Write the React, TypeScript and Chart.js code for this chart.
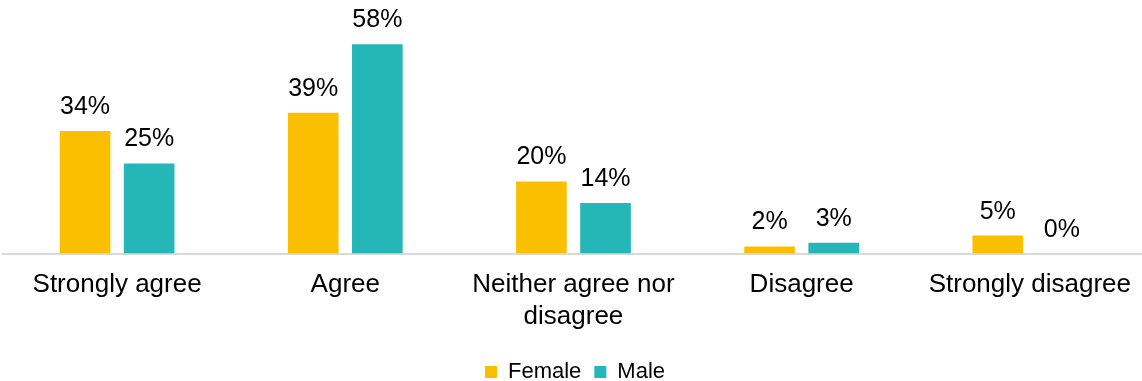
import React, { useEffect, useRef } from "react";
import { Chart, registerables } from "chart.js";

Chart.register(...registerables);

const categories: (string | string[])[] = [
  "Strongly agree",
  "Agree",
  ["Neither agree nor", "disagree"],
  "Disagree",
  "Strongly disagree",
];
const femaleValues = [34, 39, 20, 2, 5];
const maleValues = [25, 58, 14, 3, 0];
const seriesNames = ["Female", "Male"];
const seriesColors = ["#FAC000", "#25B7B7"];

const FONT = "'Liberation Sans', Arial, sans-serif";

const valueLabels = {
  id: "valueLabels",
  afterDatasetsDraw(chart: any) {
    const ctx = chart.ctx;
    ctx.save();
    ctx.font = `25px ${FONT}`;
    ctx.fillStyle = "#000";
    ctx.textAlign = "center";
    ctx.textBaseline = "alphabetic";
    chart.data.datasets.forEach((ds: any, i: number) => {
      const meta = chart.getDatasetMeta(i);
      meta.data.forEach((bar: any, j: number) => {
        ctx.fillText(`${ds.data[j]}%`, bar.x, bar.y - 17);
      });
    });
    ctx.restore();
  },
};

const CANVAS_W = 1147;
const CANVAS_H = 393;

export default function App() {
  const ref = useRef<HTMLCanvasElement | null>(null);
  useEffect(() => {
    document.body.style.margin = "0";
    document.body.style.overflow = "hidden";
    document.documentElement.style.overflow = "hidden";
    const chart = new Chart(ref.current!, {
      type: "bar",
      data: {
        labels: categories,
        datasets: [
          {
            label: seriesNames[0],
            data: femaleValues,
            backgroundColor: seriesColors[0],
            categoryPercentage: 0.562,
            barPercentage: 0.79,
          },
          {
            label: seriesNames[1],
            data: maleValues,
            backgroundColor: seriesColors[1],
            categoryPercentage: 0.562,
            barPercentage: 0.79,
          },
        ],
      },
      options: {
        animation: false,
        responsive: false,
        maintainAspectRatio: false,
        layout: { padding: { left: 3, right: 0, top: 1, bottom: 0 } },
        scales: {
          x: {
            grid: { display: false, drawTicks: false },
            border: { display: true, color: "#D9D9D9", width: 2 },
            ticks: {
              color: "#000",
              padding: 16,
              font: { family: FONT, size: 26, lineHeight: 1.2 },
              maxRotation: 0,
              autoSkip: false,
            },
          },
          y: {
            display: false,
            min: 0,
            max: 70,
          },
        },
        plugins: {
          legend: {
            position: "bottom",
            labels: {
              boxWidth: 12,
              boxHeight: 12,
              padding: 13,
              color: "#000",
              font: { family: FONT, size: 22 },
            },
          },
          tooltip: { enabled: false },
        },
      },
      plugins: [valueLabels],
    });
    return () => chart.destroy();
  }, []);
  return (
    <div style={{ width: 1142, height: 381, overflow: "hidden" }}>
      <canvas
        ref={ref}
        width={CANVAS_W}
        height={CANVAS_H}
        style={{ display: "block", width: CANVAS_W, height: CANVAS_H }}
      />
    </div>
  );
}
